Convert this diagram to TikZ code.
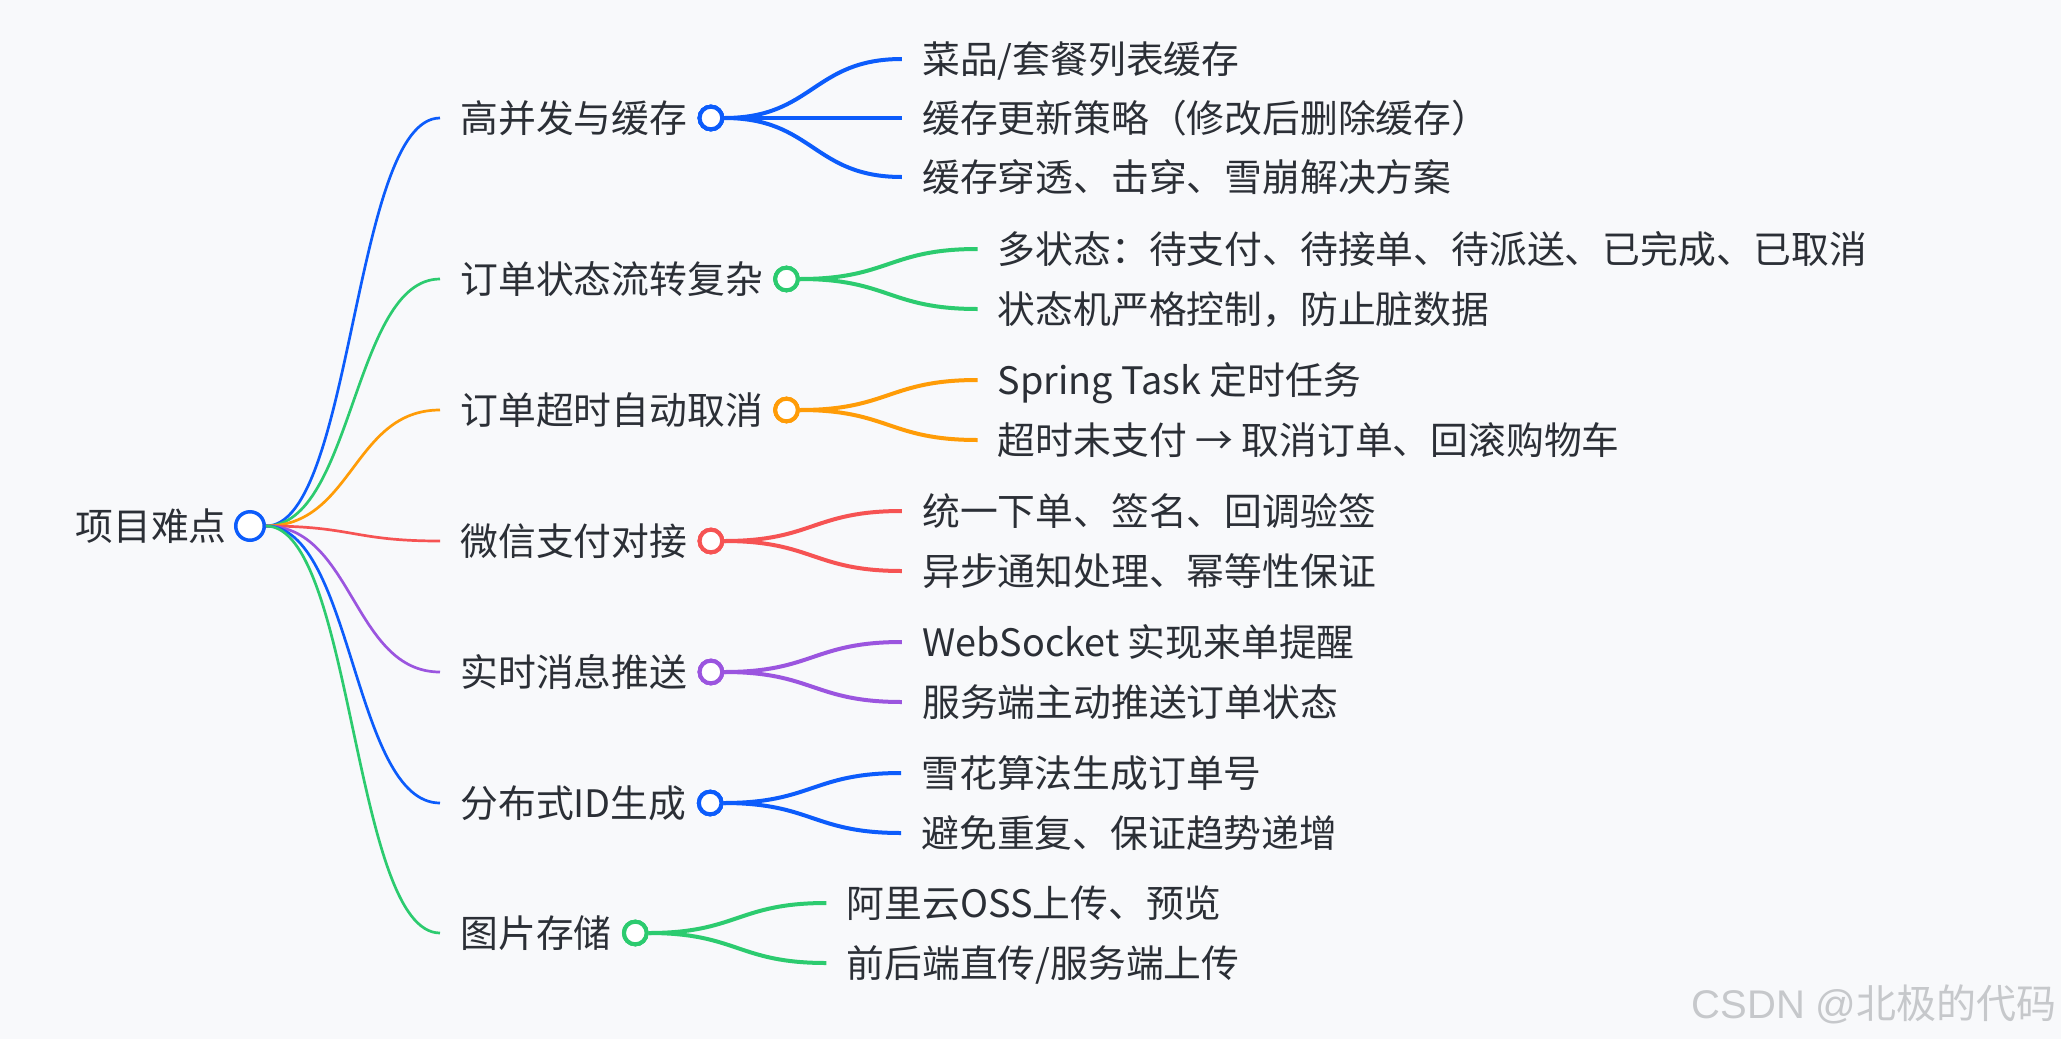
\documentclass[tikz,border=0pt]{standalone}
\usepackage{fontspec}
\usepackage{xcolor}
\usepackage{tikz}
\usetikzlibrary{positioning,calc}

\newfontfamily\cjk{Noto Sans CJK SC}
\newfontfamily\wmlatin{Liberation Sans}
\newcommand\mmfont{\cjk\fontsize{18.9}{22}\selectfont}

\definecolor{ink}{HTML}{2B2F36}
\definecolor{paper}{HTML}{F8F9FB}
\definecolor{mblue}{HTML}{0C5CFB}
\definecolor{mgreen}{HTML}{2CCB6F}
\definecolor{morange}{HTML}{FF9C07}
\definecolor{mred}{HTML}{F65353}
\definecolor{mpurple}{HTML}{9B55DF}
\definecolor{wmgray}{HTML}{C6C8CB}

\tikzset{
  topic/.style={font=\mmfont, text=ink, inner sep=0pt, text height=16.5pt, text depth=2.3pt, anchor=west},
  hub/.style={circle, draw=#1, fill=white, line width=2pt, minimum size=11.3pt, inner sep=0pt},
  rootdot/.style={circle, draw=mblue, fill=white, line width=1.75pt, minimum size=14.25pt, inner sep=0pt},
  trunk/.style={draw=#1, line width=1.35pt},
  twig/.style={draw=#1, line width=2pt}
}

\begin{document}
\begin{tikzpicture}[x=0.5pt,y=-0.5pt]
  \fill[paper] (0,0) rectangle (2061,1039);
  \useasboundingbox (0,0) rectangle (2061,1039);

  % root
  \node[rootdot] (root) at (250,526) {};
  \node[topic, left=3.5pt of root] (roottext) {项目难点};

  % first level
  \foreach \i/\y/\c/\t in {1/118/mblue/{高并发与缓存}, 2/279/mgreen/{订单状态流转复杂},
      3/410/morange/{订单超时自动取消}, 4/541/mred/{微信支付对接}, 5/672/mpurple/{实时消息推送},
      6/803/mblue/{分布式ID生成}, 7/933/mgreen/{图片存储}}{
    \draw[trunk=\c] (root.east) .. controls +(87,0) and +(-87,0) .. ($(460,\y)+(-20,0)$);
    \node[topic] (t\i) at (460,\y) {\t};
    \node[hub=\c, right=5pt of t\i] (h\i) {};
  }

  % second level
  \foreach \i/\k/\dy/\c/\t in {1/a/-59/mblue/{菜品/套餐列表缓存}, 1/b/0/mblue/{缓存更新策略（修改后删除缓存）},
      1/c/59/mblue/{缓存穿透、击穿、雪崩解决方案},
      2/a/-30/mgreen/{多状态：待支付、待接单、待派送、已完成、已取消}, 2/b/30/mgreen/{状态机严格控制，防止脏数据},
      3/a/-30/morange/{Spring Task 定时任务}, 3/b/30/morange/{超时未支付 → 取消订单、回滚购物车},
      4/a/-30/mred/{统一下单、签名、回调验签}, 4/b/30/mred/{异步通知处理、幂等性保证},
      5/a/-30/mpurple/{WebSocket 实现来单提醒}, 5/b/30/mpurple/{服务端主动推送订单状态},
      6/a/-30/mblue/{雪花算法生成订单号}, 6/b/30/mblue/{避免重复、保证趋势递增},
      7/a/-30/mgreen/{阿里云OSS上传、预览}, 7/b/30/mgreen/{前后端直传/服务端上传}}{
    \node[topic] (l\i\k) at ($(h\i.center)+(211,\dy)$) {\t};
    \draw[twig=\c] (h\i.east) .. controls +(89,0) and +(-89,0) .. ([xshift=-10pt]l\i\k.west);
    \node[hub=\c] at (h\i) {};
  }

  \node[anchor=east, inner sep=0pt, text=wmgray, font=\cjk\fontsize{20}{24}\selectfont] (mark) at (2057,1004)
    {{\wmlatin CSDN @}北极的代码};
\end{tikzpicture}
\end{document}
